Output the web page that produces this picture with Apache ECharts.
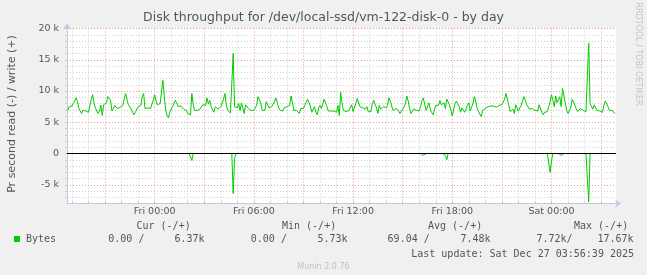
<!DOCTYPE html>
<html><head><meta charset="utf-8">
<script src="https://cdn.jsdelivr.net/npm/echarts@6/dist/echarts.min.js"></script>
<style>html,body{margin:0;padding:0;background:#f0f0f0}#c{width:647px;height:275px}</style>
</head><body><div id="c"></div>
<script>
// time in minutes relative to Fri 00:00, one sample every 5 minutes
const startMinute = -315;
const stepMinutes = 5;
// write bytes/s (k), positive side
const writeK = [
6.9,7.5,7.5,7.6,8.0,8.4,8.9,8.3,7.2,6.8,
6.4,6.9,7.2,6.8,6.6,6.6,6.9,8.7,9.4,8.0,
7.3,6.8,6.4,6.8,7.7,6.1,7.8,7.6,8.1,9.1,
8.9,8.5,6.8,7.2,7.7,7.5,7.2,7.2,7.4,7.1,
7.7,8.9,9.6,8.5,7.8,7.5,7.1,6.6,6.2,6.6,
6.9,7.5,7.3,7.7,9.1,9.6,7.2,7.5,7.3,7.5,
7.2,7.5,8.5,9.4,8.4,7.8,
8.1,8.0,7.8,11.7,9.1,6.9,6.1,5.73,6.6,6.9,
7.5,8.0,8.5,8.1,7.5,7.2,7.6,7.7,7.1,6.8,
6.9,6.4,6.7,6.2,9.6,7.8,6.9,6.8,6.9,7.0,
7.1,7.3,7.8,8.1,7.7,8.9,7.9,8.5,7.5,7.2,
6.6,7.5,7.2,7.1,6.9,7.5,7.7,8.7,9.6,7.8,
6.9,6.6,6.5,6.4,16.0,7.5,7.8,7.3,8.0,6.9,
8.1,7.3,6.4,7.8,7.9,7.2,6.9,
6.9,6.6,6.9,7.3,7.7,9.1,9.2,8.1,6.9,6.6,
6.9,8.3,8.0,7.3,7.2,7.5,7.8,8.3,8.9,8.1,
7.3,6.9,6.7,6.8,7.3,7.6,7.5,7.2,7.7,9.2,
8.1,6.9,6.6,6.9,6.8,6.4,7.2,7.3,7.2,7.7,
7.5,8.7,8.9,7.6,6.6,6.9,7.5,6.6,6.2,7.3,
7.7,7.2,7.9,8.7,8.9,7.5,6.8,6.9,6.8,6.9,
6.8,6.7,6.6,7.7,6.1,9.8,8.0,
6.9,6.8,6.7,6.8,6.9,6.9,7.8,6.7,6.8,8.0,
8.8,8.7,7.5,7.2,7.3,7.2,7.1,7.5,6.7,6.8,
6.7,8.0,8.5,8.3,7.3,6.4,7.7,7.1,6.9,7.5,
7.7,7.3,7.7,8.9,8.4,7.6,6.9,6.7,7.2,7.3,
6.9,6.4,6.2,7.1,7.5,8.0,9.2,8.4,7.2,6.4,
6.1,7.1,6.9,6.9,6.8,6.8,7.5,8.5,8.9,7.8,
6.9,6.8,8.1,7.1,6.6,6.2,
6.1,7.7,7.9,7.7,8.5,7.8,7.5,8.1,7.2,8.7,
8.9,7.8,6.9,6.0,7.1,8.0,8.4,8.5,7.5,6.6,
7.3,7.2,6.6,6.9,7.7,8.1,6.8,6.8,8.0,9.1,
8.4,7.2,6.7,6.4,5.9,6.9,6.6,7.2,7.3,7.5,
7.7,7.6,7.9,7.6,7.7,7.4,7.5,7.7,7.9,7.8,
7.7,8.7,9.6,9.8,7.7,6.7,6.9,7.1,6.4,7.8,
7.7,6.8,7.3,7.7,8.0,9.1,8.5,
7.8,7.5,7.1,7.3,7.2,7.0,6.9,7.1,6.8,7.8,
7.9,6.6,6.2,6.6,6.6,6.7,6.8,8.3,9.4,8.5,
7.5,9.2,8.1,8.4,9.1,7.5,10.4,10.7,8.1,6.9,
6.4,6.9,7.3,8.7,8.8,7.7,7.1,6.7,6.8,7.2,
7.4,6.9,6.8,6.7,6.8,17.67,8.0,7.7,7.1,7.8,
7.3,6.9,6.8,6.8,6.7,6.6,7.7,8.4,8.1,7.5,
6.9,6.6,6.9,6.8,6.37
];
// read bytes/s (k), drawn on the negative side
const readK = [
0,0,0,0,0,0,0,0,0,0,0,0,0,0,0,0,0,0,0,0,
0,0,0,0,0,0,0,0,0,0,0,0,0,0,0,0,0,0,0,0,
0,0,0,0,0,0,0,0,0,0,0,0,0,0,0,0,0,0,0,0,
0,0,0,0,0,0,0,0,0,0,0,0,0,0,0,0,0,0,0,0,
0,0,0,0,0,0,0,0,0,0.3,1.1,0,0,0,0,0,0,0,0,0,
0,0,0,0,0,0,0,0,0,0,0,0,0,0,0,0,0,0,0,0,
6.4,0.8,0,0,0,0,0,0,0,0,0,0,0,0,0,0,0,0,0,0,
0,0,0,0,0,0,0,0,0,0,0,0,0,0,0,0,0,0,0,0,
0,0,0,0,0,0,0,0,0,0,0,0,0,0,0,0,0,0,0,0,
0,0,0,0,0,0,0,0,0,0,0,0,0,0,0,0,0,0,0,0,
0,0,0,0,0,0,0,0,0,0,0,0,0,0,0,0,0,0,0,0,
0,0,0,0,0,0,0,0,0,0,0,0,0,0,0,0,0,0,0,0,
0,0,0,0,0,0,0,0,0,0,0,0,0,0,0,0,0,0.3,0.3,0,
0,0,0,0,0,0,0,0,0,0,0,0,0,0,0.3,1.0,0,0,0,0,
0,0,0,0,0,0,0,0,0,0,0,0,0,0,0,0,0,0,0,0,
0,0,0,0,0,0,0,0,0,0,0,0,0,0,0,0,0,0,0,0,
0,0,0,0,0,0,0,0,0,0,0,0,0,0,0,0,0,0,0,0,
0,0,0,0,0,0,0,0,0,0,3.0,1.2,0,0,0,0,0,0,0.3,0.4,
0,0,0,0,0,0,0,0,0,0,0,0,0,0,0,0,0,0,7.72,0,
0,0,0,0,0,0,0,0,0,0,0,0,0,0,0,0,0,0
];
const xTickMinutes = [0, 360, 720, 1080, 1440];
const xTickLabels = ['Fri 00:00', 'Fri 06:00', 'Fri 12:00', 'Fri 18:00', 'Sat 00:00'];
const yTickValues = [-5, 0, 5, 10, 15, 20];
const yTickLabels = ['-5 k', '0', '5 k', '10 k', '15 k', '20 k'];
const legendHeaders = ['Cur (-/+)', 'Min (-/+)', 'Avg (-/+)', 'Max (-/+)'];
const legendRead = ['0.00 /', '0.00 /', '69.04 /', '7.72k/'];
const legendWrite = ['6.37k', '5.73k', '7.48k', '17.67k'];
const titleText = 'Disk throughput for /dev/local-ssd/vm-122-disk-0 - by day';
const yAxisTitle = 'Pr second read (-) / write (+)';
const seriesName = 'Bytes';
const lastUpdate = 'Last update: Sat Dec 27 03:56:39 2025';
const footer = 'Munin 2.0.76';
const watermark = 'RRDTOOL / TOBI OETIKER';

const X_MIN = -318, X_MAX = 1674, Y_MIN = -8, Y_MAX = 20;
const GREEN = '#00cc00';
const MINOR = '#cfcfcf', MAJOR = '#eb9a9a';

const writeData = writeK.map((v, i) => [startMinute + i * stepMinutes, v]);
const readData = readK.map((v, i) => [startMinute + i * stepMinutes, -v]);

const gridLines = [];
for (let m = Math.ceil(X_MIN / 60) * 60; m <= X_MAX; m += 60) {
  gridLines.push({xAxis: m, lineStyle: {color: m % 180 === 0 ? MAJOR : MINOR, type: [1, 2], width: 1}});
}
for (let v = Y_MIN + 1; v <= Y_MAX; v += 1) {
  if (v === 0) continue;
  gridLines.push({yAxis: v, lineStyle: {color: v % 5 === 0 ? MAJOR : MINOR, type: [1, 2], width: 1}});
}
const hourTicks = [];
for (let m = Math.ceil(X_MIN / 60) * 60; m <= X_MAX; m += 60) hourTicks.push(m);
const kTicks = [];
for (let v = Y_MIN + 1; v <= Y_MAX; v += 1) kTicks.push(v);

const TXT = '#555';
const mono = '10px "DejaVu Sans Mono"';
const graphics = [
  {type: 'text', x: 323.5, y: 18, style: {text: titleText, font: '12.5px "DejaVu Sans"', fill: TXT, textAlign: 'center', textVerticalAlign: 'middle'}},
  {type: 'text', x: 12, y: 114, rotation: Math.PI / 2, style: {text: yAxisTitle, font: '11px "DejaVu Sans"', fill: TXT, textAlign: 'center', textVerticalAlign: 'middle'}},
  {type: 'text', x: 638.5, y: 54, rotation: -Math.PI / 2, style: {text: watermark, font: '8px "DejaVu Sans"', fill: '#c4c4c4', textAlign: 'center', textVerticalAlign: 'middle'}},
  {type: 'rect', shape: {x: 14, y: 236, width: 6, height: 6}, style: {fill: GREEN}},
  {type: 'text', x: 26, y: 239.5, style: {text: seriesName, font: mono, fill: TXT, textVerticalAlign: 'middle'}},
  {type: 'text', x: 634, y: 254.5, style: {text: lastUpdate, font: mono, fill: TXT, textAlign: 'right', textVerticalAlign: 'middle'}},
  {type: 'text', x: 323.5, y: 266.5, style: {text: footer, font: '8px "DejaVu Sans"', fill: '#c0c0c0', textAlign: 'center', textVerticalAlign: 'middle'}}
];
const headerX = [136.5, 282, 428, 574];
const readX = [108.3, 250.8, 387.6, 536.4];
const writeRight = [204.5, 347.5, 490.5, 633.5];
legendHeaders.forEach((t, k) => graphics.push({type: 'text', x: headerX[k], y: 226.5, style: {text: t, font: mono, fill: TXT, textVerticalAlign: 'middle'}}));
legendRead.forEach((t, k) => graphics.push({type: 'text', x: readX[k], y: 239.5, style: {text: t, font: mono, fill: TXT, textVerticalAlign: 'middle'}}));
legendWrite.forEach((t, k) => graphics.push({type: 'text', x: writeRight[k], y: 239.5, style: {text: t, font: mono, fill: TXT, textAlign: 'right', textVerticalAlign: 'middle'}}));

const chart = echarts.init(document.getElementById('c'), null, {renderer: 'canvas', devicePixelRatio: 1});
chart.setOption({
  animation: false,
  backgroundColor: '#f0f0f0',
  grid: {left: 67, right: 31, top: 28.5, bottom: 71.5, show: true, backgroundColor: '#ffffff', borderWidth: 0, containLabel: false, outerBoundsMode: 'none'},
  xAxis: {
    type: 'value', min: X_MIN, max: X_MAX,
    splitLine: {show: false},
    axisLine: {onZero: false, show: true, lineStyle: {color: '#c6c6e6', width: 1}, symbol: ['none', 'arrow'], symbolSize: [6, 6], symbolOffset: [0, 5]},
    axisTick: {show: true, inside: true, length: 2, customValues: hourTicks, lineStyle: {color: '#b8b8b8'}},
    axisLabel: {show: true, customValues: xTickMinutes, margin: 3, color: TXT, fontFamily: 'DejaVu Sans', fontSize: 9.5,
      formatter: v => xTickLabels[xTickMinutes.indexOf(v)] || ''}
  },
  yAxis: {
    type: 'value', min: Y_MIN, max: Y_MAX,
    splitLine: {show: false},
    axisLine: {show: true, onZero: false, lineStyle: {color: '#c6c6e6', width: 1}, symbol: ['none', 'arrow'], symbolSize: [6, 6], symbolOffset: [0, 5]},
    axisTick: {show: true, length: 2, customValues: kTicks, lineStyle: {color: '#c8c8c8'}},
    axisLabel: {show: true, customValues: yTickValues, margin: 8, color: TXT, fontFamily: 'DejaVu Sans', fontSize: 9.5,
      formatter: v => yTickLabels[yTickValues.indexOf(v)] || ''}
  },
  series: [
    {type: 'line', name: 'grid', data: [], silent: true,
      markLine: {silent: true, z: 1, symbol: ['none', 'none'], label: {show: false}, animation: false, data: gridLines}},
    {type: 'line', name: seriesName, data: writeData, showSymbol: false, symbol: 'none', z: 5, sampling: 'none',
      lineStyle: {color: GREEN, width: 1}, itemStyle: {color: GREEN}},
    {type: 'line', name: seriesName + ' read', data: readData, showSymbol: false, symbol: 'none', z: 5, sampling: 'none',
      lineStyle: {color: GREEN, width: 1}, itemStyle: {color: GREEN}},
    {type: 'line', name: 'zero', data: [], silent: true, zlevel: 1,
      markLine: {silent: true, z: 10, symbol: ['none', 'none'], label: {show: false}, animation: false,
        data: [{yAxis: 0, lineStyle: {color: '#000000', type: 'solid', width: 1}}]}}
  ],
  graphic: graphics
});
</script>
</body></html>
